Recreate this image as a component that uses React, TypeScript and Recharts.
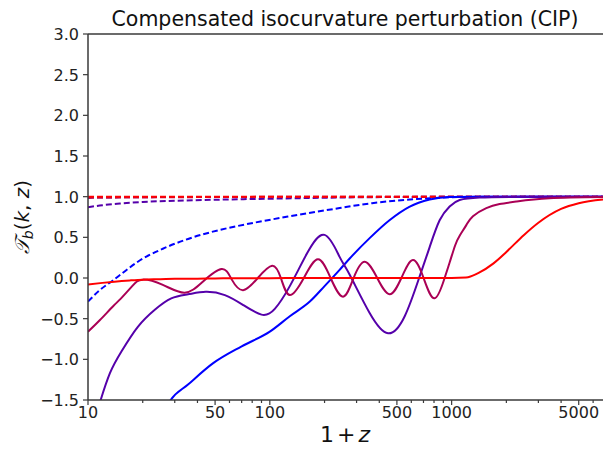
import { LineChart, Line, XAxis, YAxis, ReferenceLine } from "recharts";

// 1 + z sample positions and transfer values for each curve
const blueX = [26.5, 28.5, 35.5, 48.6, 70, 100, 128.8, 166, 200, 242, 275, 354, 455, 585, 757, 975, 1425, 6800];
const blueY = [-1.62, -1.5, -1.31, -1.05, -0.84, -0.66, -0.47, -0.29, -0.1, 0.1, 0.24, 0.49, 0.71, 0.875, 0.965, 0.997, 1.0, 1.0];

const purpleX = [11.2, 11.74, 13.2, 15.3, 18.8, 23.3, 28.7, 35.5, 44.5, 56.6, 71.1, 90, 106.5, 128.8, 160, 200, 242, 275, 354, 447, 552, 667, 757, 859, 975, 1107, 1425, 2367, 6800];
const purpleY = [-1.65, -1.5, -1.17, -0.9, -0.6, -0.39, -0.25, -0.2, -0.17, -0.21, -0.33, -0.45, -0.38, -0.1, 0.3, 0.53, 0.26, 0.04, -0.43, -0.68, -0.47, 0.02, 0.38, 0.71, 0.88, 0.96, 0.99, 0.998, 1.0];

const magentaX = [10, 11.6, 13.7, 15.2, 17.5, 20, 25.8, 34, 42.8, 54.3, 61.8, 71.3, 85.9, 103, 115, 128.8, 153.8, 184, 216, 252.8, 289, 332.6, 389.7, 456, 529, 612, 701, 806, 915, 975, 1045, 1107, 1204, 1310, 1551, 1836, 2267, 3452, 6800];
const magentaY = [-0.66, -0.52, -0.35, -0.25, -0.1, -0.02, -0.085, -0.18, -0.045, 0.11, -0.02, -0.15, 0.0, 0.15, 0.0, -0.21, 0.0, 0.23, 0.0, -0.23, 0.0, 0.2, 0.0, -0.2, 0.0, 0.22, 0.0, -0.25, 0.0, 0.19, 0.4, 0.52, 0.65, 0.76, 0.86, 0.91, 0.94, 0.98, 0.995];

const redX = [10, 12, 14, 17, 20, 25, 30, 40, 50, 70, 100, 200, 500, 1000, 1200, 1400, 1700, 2000, 2500, 3000, 4000, 5000, 6800];
const redY = [-0.08, -0.06, -0.045, -0.03, -0.02, -0.015, -0.01, -0.008, -0.005, -0.003, -0.002, 0, 0, 0, 0.005, 0.06, 0.18, 0.32, 0.53, 0.68, 0.85, 0.92, 0.965];

// dashed curves
const blueDashX = [10, 11.6, 13.7, 16.1, 18.8, 25.8, 35.5, 48.6, 66.7, 91.6, 125.8, 242, 365, 640, 1107, 2000, 6800];
const blueDashY = [-0.29, -0.15, -0.03, 0.09, 0.2, 0.36, 0.48, 0.57, 0.64, 0.7, 0.755, 0.86, 0.92, 0.97, 0.995, 1.0, 1.0];

const purpleDashX = [10, 12, 15, 20, 30, 50, 100, 250, 600, 1000, 6800];
const purpleDashY = [0.87, 0.895, 0.915, 0.935, 0.95, 0.962, 0.975, 0.99, 0.997, 1.0, 1.0];

const magentaDashX = [10, 30, 100, 1000, 6800];
const magentaDashY = [0.985, 0.993, 0.998, 1.0, 1.0];

const redDashX = [10, 100, 1000, 6800];
const redDashY = [0.999, 1.0, 1.0, 1.0];

const xTicks = [10, 20, 30, 40, 50, 60, 70, 80, 90, 100, 200, 300, 400, 500, 600, 700, 800, 900, 1000, 2000, 3000, 4000, 5000, 6000];
const xLabelTicks = [10, 50, 100, 500, 1000, 5000];
const yTicks = [-1.5, -1.0, -0.5, 0.0, 0.5, 1.0, 1.5, 2.0, 2.5, 3.0];

const FONT = "DejaVu Sans";
const AXIS = "#3a3a3a";

const toRows = (xs: number[], ys: number[]) => xs.map((x, i) => ({ x, y: ys[i] }));

const solid = [
  { name: "blue", color: "#0000ff", curve: "monotone", rows: toRows(blueX, blueY) },
  { name: "purple", color: "#5500aa", curve: "natural", rows: toRows(purpleX, purpleY) },
  { name: "magenta", color: "#aa0055", curve: "natural", rows: toRows(magentaX, magentaY) },
  { name: "red", color: "#ff0000", curve: "monotone", rows: toRows(redX, redY) },
];

const dashed = [
  { name: "blueDash", color: "#0000ff", rows: toRows(blueDashX, blueDashY) },
  { name: "purpleDash", color: "#5500aa", rows: toRows(purpleDashX, purpleDashY) },
  { name: "magentaDash", color: "#aa0055", rows: toRows(magentaDashX, magentaDashY) },
  { name: "redDash", color: "#ff0000", rows: toRows(redDashX, redDashY) },
];

function XTick(props: any) {
  const { x, y, payload } = props;
  const v = payload.value;
  const major = xLabelTicks.includes(v);
  return (
    <g>
      <line x1={x} x2={x} y1={y} y2={y + (major ? 5 : 3)} stroke={AXIS} strokeWidth={1.2} />
      {major && (
        <text x={x} y={y + 18} textAnchor="middle" fontSize={16} fill="#222" fontFamily={FONT}>
          {v}
        </text>
      )}
    </g>
  );
}

function YTick(props: any) {
  const { x, y, payload } = props;
  const label = Number(payload.value).toFixed(1).replace("-", "\u2212");
  return (
    <g>
      <line x1={x - 5} x2={x} y1={y} y2={y} stroke={AXIS} strokeWidth={1.2} />
      <text x={x - 9} y={y + 6} textAnchor="end" fontSize={16} fill="#222" fontFamily={FONT}>
        {label}
      </text>
    </g>
  );
}

export default function App() {
  return (
    <div style={{ position: "absolute", left: 0, top: 0, width: 603, height: 449, background: "#fff" }}>
      <LineChart width={603} height={449} margin={{ top: 34, right: 0, bottom: 0, left: 0 }}>
        <XAxis
          dataKey="x"
          type="number"
          scale="log"
          domain={[10, 6800]}
          ticks={xTicks}
          interval={0}
          allowDataOverflow
          height={49}
          tickSize={0}
          tickMargin={0}
          tickLine={false}
          tick={XTick}
          axisLine={{ stroke: AXIS, strokeWidth: 1.5 }}
        />
        <YAxis
          type="number"
          domain={[-1.5, 3]}
          ticks={yTicks}
          interval={0}
          allowDataOverflow
          width={88}
          tickSize={0}
          tickMargin={0}
          tickLine={false}
          tick={YTick}
          axisLine={{ stroke: AXIS, strokeWidth: 1.5 }}
        />
        <ReferenceLine y={3} stroke={AXIS} strokeWidth={1.5} />
        {dashed.map((s) => (
          <Line
            key={s.name}
            data={s.rows}
            dataKey="y"
            type="monotone"
            stroke={s.color}
            strokeWidth={2}
            strokeDasharray="6 3"
            dot={false}
            activeDot={false}
            isAnimationActive={false}
          />
        ))}
        {solid.map((s) => (
          <Line
            key={s.name}
            data={s.rows}
            dataKey="y"
            type={s.curve as any}
            stroke={s.color}
            strokeWidth={2}
            dot={false}
            activeDot={false}
            isAnimationActive={false}
          />
        ))}
      </LineChart>
      <svg width={603} height={449} style={{ position: "absolute", left: 0, top: 0, pointerEvents: "none" }}>
        <text x={345} y={26} textAnchor="middle" fontSize={20.5} fill="#111" fontFamily={FONT}>
          Compensated isocurvature perturbation (CIP)
        </text>
        <text x={345} y={442} textAnchor="middle" fontSize={22} fill="#111" fontFamily={FONT}>
          1<tspan dx={3}>+</tspan>
          <tspan dx={3} fontStyle="italic">z</tspan>
        </text>
        <text
          transform="translate(29 217) rotate(-90)"
          textAnchor="middle"
          fontSize={20}
          fill="#111"
          fontFamily={FONT}
        >
          <tspan fontFamily="DejaVu Serif" fontStyle="italic">𝒯</tspan>
          <tspan fontSize={14} dy={4} fontStyle="italic">b</tspan>
          <tspan dy={-4}>(</tspan>
          <tspan fontStyle="italic">k</tspan>
          <tspan>, </tspan>
          <tspan fontStyle="italic">z</tspan>
          <tspan>)</tspan>
        </text>
      </svg>
    </div>
  );
}
